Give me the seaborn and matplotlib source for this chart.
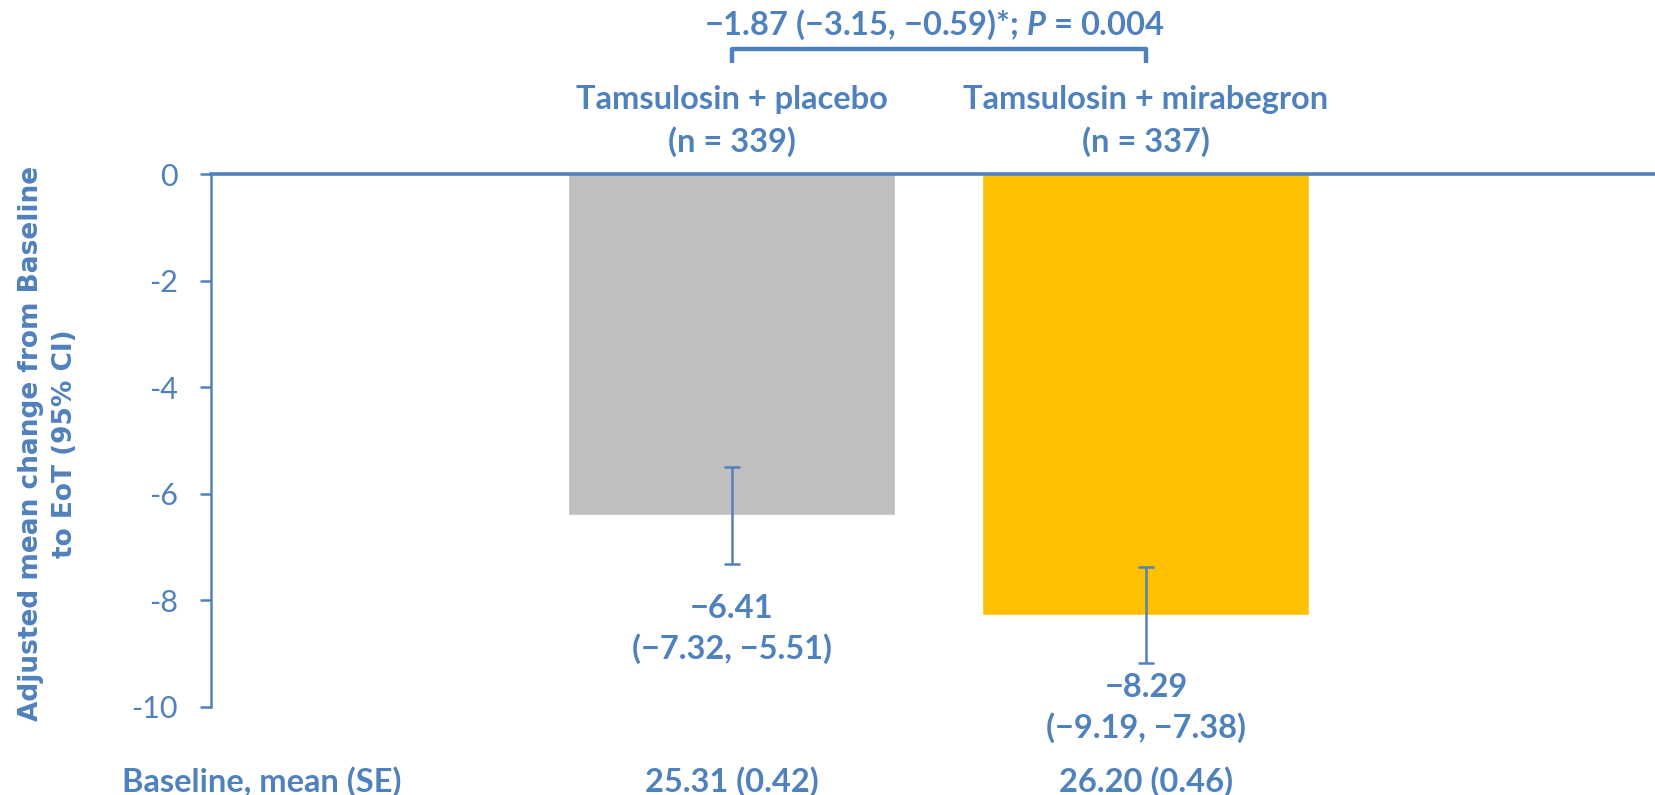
import matplotlib
matplotlib.use("Agg")
import matplotlib.pyplot as plt
import seaborn as sns
import pandas as pd

# Treatment groups and their results
groups = ["Tamsulosin + placebo", "Tamsulosin + mirabegron"]
group_n = ["(n = 339)", "(n = 337)"]
mean_change = [-6.41, -8.29]
ci_low = [-7.32, -9.19]
ci_high = [-5.51, -7.38]
baseline = ["25.31 (0.42)", "26.20 (0.46)"]
ytick_values = [0, -2, -4, -6, -8, -10]
ytick_labels = ["0", "-2", "-4", "-6", "-8", "-10"]
difference_text = "\u22121.87 (\u22123.15, \u22120.59)*; $\\mathit{P}$ = 0.004"

BLUE = "#4F81BD"
bar_colors = ["#BFBFBF", "#FFC000"]

sns.set_theme(style="white")
plt.rcParams["font.family"] = ["Lato", "DejaVu Sans"]
plt.rcParams["mathtext.fontset"] = "custom"
plt.rcParams["mathtext.it"] = "Lato:italic:bold"
plt.rcParams["mathtext.rm"] = "Lato:bold"

df = pd.DataFrame({"group": groups, "change": mean_change})

fig = plt.figure(figsize=(16.56, 7.95), dpi=100)
ax = fig.add_axes([0.1274, 0.1113, 0.8726, 0.6698])

sns.barplot(data=df, x="group", y="change", hue="group", palette=bar_colors,
            errorbar=None, width=0.79, legend=False, ax=ax, saturation=1)

pos = list(range(len(groups)))
yerr = [[m - lo for m, lo in zip(mean_change, ci_low)],
        [hi - m for m, hi in zip(mean_change, ci_high)]]
ax.errorbar(pos, mean_change, yerr=yerr, fmt="none", ecolor=BLUE,
            elinewidth=1.8, capsize=6, capthick=1.8, zorder=5)

ax.set_xlim(-1.258, 2.232)
ax.set_ylim(-10, 0)
ax.set_yticks(ytick_values)
ax.set_yticklabels(ytick_labels)
ax.set_xticks([])
ax.set_xlabel("")
ax.set_ylabel("")
ax.tick_params(axis="y", direction="out", length=8, width=1.8, color=BLUE,
               labelcolor=BLUE, labelsize=22, pad=16, left=True)

for side in ["bottom", "right"]:
    ax.spines[side].set_visible(False)
for side in ["top", "left"]:
    ax.spines[side].set_visible(True)
    ax.spines[side].set_color(BLUE)
ax.spines["top"].set_linewidth(2.6)
ax.spines["left"].set_linewidth(1.8)

txt = dict(color=BLUE, fontweight="bold", ha="center", va="center",
           clip_on=False, fontsize=23.5)

# Group headers
for x, g, n in zip(pos, groups, group_n):
    ax.text(x, 1.40, g, **txt)
    ax.text(x, 0.60, n, **txt)

# Value labels under each bar
label_top = [-8.16, -9.64]
for x, m, lo, hi, yt in zip(pos, mean_change, ci_low, ci_high, label_top):
    ax.text(x, yt, f"\u2212{abs(m):.2f}", **txt)
    ax.text(x, yt - 0.75, f"(\u2212{abs(lo):.2f}, \u2212{abs(hi):.2f})", **txt)

# Baseline row
ax.text(-1.135, -11.41, "Baseline, mean (SE)", **txt)
for x, b in zip(pos, baseline):
    ax.text(x, -11.41, b, **txt)

# Comparison bracket
ax.plot([pos[0], pos[0], pos[1], pos[1]], [2.08, 2.355, 2.355, 2.08],
        color=BLUE, lw=3.2, clip_on=False, solid_capstyle="butt")
ax.text(0.49, 2.80, difference_text, **txt)

# Y-axis title
fig.text(0.0287, 0.442, "Adjusted mean change from Baseline\nto EoT (95% CI)",
         rotation=90, ha="center", va="center", multialignment="center",
         color=BLUE, fontweight="bold", fontsize=19, linespacing=1.4,
         family="DejaVu Sans")

fig.savefig("out.png", dpi=100)
